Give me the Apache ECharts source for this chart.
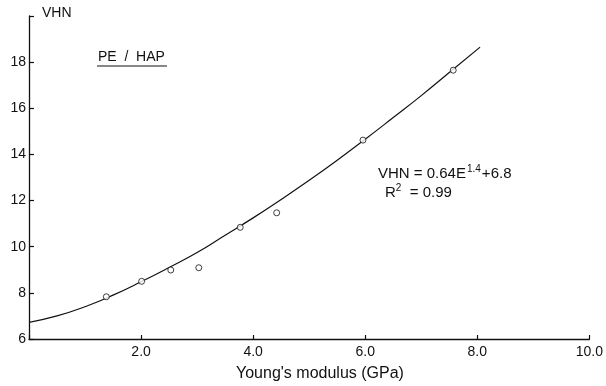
<!DOCTYPE html>
<html>
<head>
<meta charset="utf-8">
<script src="https://cdn.jsdelivr.net/npm/echarts@6/dist/echarts.min.js"></script>
<style>html,body{margin:0;padding:0;background:#fff}#c{width:606px;height:386px}</style>
</head>
<body>
<div id="c"></div>
<script>
// Measured data points (Young's modulus GPa, VHN)
var modulus = [1.38, 2.01, 2.53, 3.03, 3.77, 4.42, 5.96, 7.57];
var vhn = [7.83, 8.50, 8.99, 9.09, 10.84, 11.47, 14.62, 17.65];
// Fitted curve
var curveX = [0, 0.5, 1, 1.5, 2, 2.5, 3, 3.5, 4, 4.5, 5, 5.5, 6, 6.5, 7, 7.5, 8.05];
var curveY = [6.72, 7.0, 7.4, 7.9, 8.48, 9.1, 9.75, 10.5, 11.25, 12.05, 12.88, 13.75, 14.66, 15.6, 16.55, 17.55, 18.65];
var xTicks = [0, 2, 4, 6, 8, 10];
var yTicks = [6, 8, 10, 12, 14, 16, 18, 20];

var font = 'Liberation Sans';
var chart = echarts.init(document.getElementById('c'));
chart.setOption({
  backgroundColor: '#fff',
  animation: false,
  grid: {left: 29, right: 12, top: 16, bottom: 47},
  xAxis: {
    type: 'value', min: xTicks[0], max: xTicks[xTicks.length - 1], interval: 2,
    axisLine: {lineStyle: {color: '#111', width: 1.3}},
    axisTick: {inside: true, length: 4, lineStyle: {color: '#111', width: 1.2}},
    splitLine: {show: false},
    axisLabel: {color: '#111', fontFamily: font, fontSize: 14, margin: 6,
      formatter: function(v){ return v === 0 ? '' : v.toFixed(1); }}
  },
  yAxis: {
    type: 'value', min: yTicks[0], max: yTicks[yTicks.length - 1], interval: 2,
    axisLine: {show: true, lineStyle: {color: '#111', width: 1.3}},
    axisTick: {show: true, inside: true, length: 5, lineStyle: {color: '#111', width: 1.2}},
    splitLine: {show: false},
    axisLabel: {color: '#111', fontFamily: font, fontSize: 14, margin: 3,
      formatter: function(v){ return v === 20 ? '' : String(v); }}
  },
  series: [
    {
      type: 'line', data: curveX.map(function(x, i){ return [x, curveY[i]]; }),
      smooth: true, showSymbol: false, lineStyle: {color: '#111', width: 1.2}, z: 2
    },
    {
      type: 'scatter', data: modulus.map(function(x, i){ return [x, vhn[i]]; }),
      symbol: 'circle', symbolSize: 6,
      itemStyle: {color: '#fff', borderColor: '#111', borderWidth: 1}, z: 3
    }
  ],
  graphic: [
    {type: 'text', left: 42, top: 6, style: {text: 'VHN', font: '14px ' + font, fill: '#111'}},
    {type: 'text', left: 98, top: 50, style: {text: 'PE  /  HAP', font: '14px ' + font, fill: '#111'}},
    {type: 'line', shape: {x1: 97, y1: 66, x2: 167, y2: 66}, style: {stroke: '#111', lineWidth: 1.2}},
    {type: 'text', left: 378, top: 164, style: {
      rich: {
        a: {font: '15px ' + font, fill: '#111'},
        s: {font: '10px ' + font, fill: '#111', padding: [0, 1, 9, 1]}
      },
      text: '{a|VHN = 0.64E}{s|1.4}{a|+6.8}'
    }},
    {type: 'text', left: 385, top: 183, style: {
      rich: {
        a: {font: '15px ' + font, fill: '#111'},
        s: {font: '10px ' + font, fill: '#111', padding: [0, 0, 9, 0]}
      },
      text: '{a|R}{s|2}{a|  = 0.99}'
    }},
    {type: 'text', left: 236, top: 366, style: {text: "Young's modulus (GPa)", font: '16px ' + font, fill: '#111'}}
  ]
});
</script>
</body>
</html>
